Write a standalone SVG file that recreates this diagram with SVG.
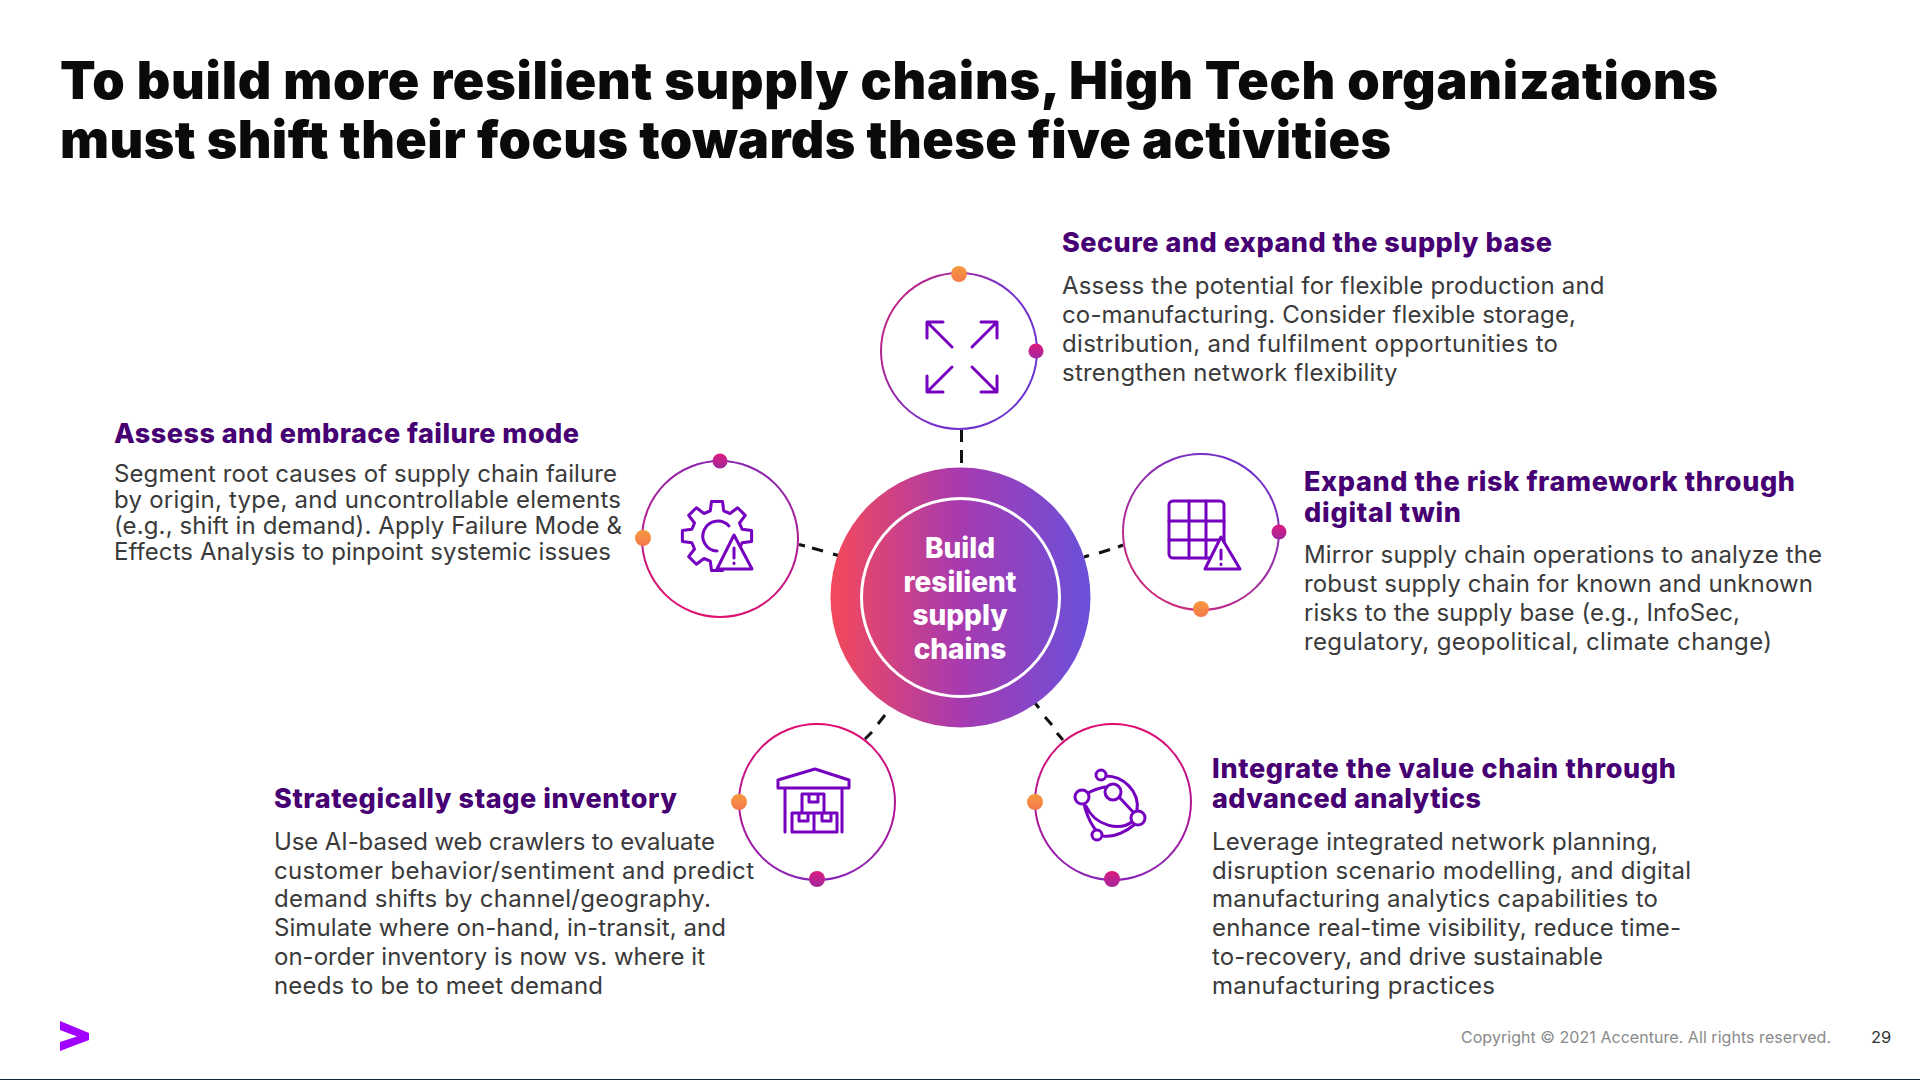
<svg xmlns="http://www.w3.org/2000/svg" width="1920" height="1080" viewBox="0 0 1920 1080">
<style>
text{font-family:Inter,"Noto Sans","Liberation Sans",sans-serif}
.t{font-size:52px;font-weight:900;fill:#0a0a0a}
.h{font-size:27px;font-weight:800;fill:#460073}
.b{font-size:24px;font-weight:400;fill:#3a3a3a}
.c{font-size:28px;font-weight:800;fill:#fff;text-anchor:middle}
.i{fill:none;stroke:#7500c0;stroke-width:3;stroke-linejoin:round;stroke-linecap:round}
.w{fill:#fff}
.r{fill:#fff;stroke-width:2}
.dash{fill:none;stroke:#111;stroke-width:3}
</style>
<defs>
<linearGradient id="core" x1="0" x2="1" y1="0" y2="0"><stop offset="0" stop-color="#f4495a"/><stop offset=".5" stop-color="#a73ab0"/><stop offset="1" stop-color="#6a50da"/></linearGradient>
<linearGradient id="rt" x1="0" x2="1" y1="0" y2=".6"><stop offset="0" stop-color="#d5206f"/><stop offset=".6" stop-color="#7a30c8"/><stop offset="1" stop-color="#6a35d0"/></linearGradient>
<linearGradient id="rl" x1=".6" x2=".4" y1="0" y2="1"><stop offset="0" stop-color="#8a25b0"/><stop offset="1" stop-color="#e0106c"/></linearGradient>
<linearGradient id="rr" x1=".8" x2=".2" y1="0" y2="1"><stop offset="0" stop-color="#6a30d0"/><stop offset="1" stop-color="#d02a78"/></linearGradient>
<linearGradient id="rb" x1="0" x2="0" y1="0" y2="1"><stop offset="0" stop-color="#e00c70"/><stop offset="1" stop-color="#8a22b8"/></linearGradient>
<linearGradient id="or" x1="0" x2="0" y1="0" y2="1"><stop offset="0" stop-color="#f59a3c"/><stop offset="1" stop-color="#f5784e"/></linearGradient>
<linearGradient id="mg" x1="0" x2="0" y1="0" y2="1"><stop offset="0" stop-color="#dd1a80"/><stop offset="1" stop-color="#a0289c"/></linearGradient>
</defs>
<rect width="1920" height="1080" fill="#fff"/>
<rect y="1079" width="1920" height="1" fill="#14263a"/>
<text class="t" x="60" y="99" textLength="1658">To build more resilient supply chains, High Tech organizations</text>
<text class="t" x="60" y="158" textLength="1331">must shift their focus towards these five activities</text>
<g id="connectors">
<path class="dash" d="M961.500 430V442M961.500 450V463"/>
<path class="dash" d="M799 544.500L805 546M812 548L823 551M833 554L840 556"/>
<path class="dash" d="M1084 557L1089 555.500M1099 553L1110 549.500M1118 547L1123 545"/>
<path class="dash" d="M865 739L872 732M878 724L885 715"/>
<path class="dash" d="M1035 703L1039 708M1045 717L1052 725M1057 733L1063 740"/>
</g>
<g id="node-core">
<circle cx="960.500" cy="597.500" r="130" fill="url(#core)"/>
<circle cx="960.500" cy="597.500" r="99" fill="none" stroke="#fff" stroke-width="3"/>
<text class="c" x="960" y="558">Build</text>
<text class="c" x="960" y="592">resilient</text>
<text class="c" x="960" y="625">supply</text>
<text class="c" x="960" y="659">chains</text>
</g>
<g id="node-secure">
<circle class="r" cx="959" cy="351" r="78" stroke="url(#rt)"/>
<circle cx="959" cy="274" r="8" fill="url(#or)"/><circle cx="1036" cy="351" r="7.500" fill="url(#mg)"/>
<path class="i" d="M952 347L927 322M927 338V322H943M972 347L997 322M981 322H997V338M952 367L927 392M927 376V392H943M972 367L997 392M997 376V392H981"/>
<text class="h" x="1062" y="252" textLength="490">Secure and expand the supply base</text>
<text class="b" x="1062" y="294" textLength="542.500">Assess the potential for flexible production and</text>
<text class="b" x="1062" y="323" textLength="514">co-manufacturing. Consider flexible storage,</text>
<text class="b" x="1062" y="352" textLength="496">distribution, and fulfilment opportunities to</text>
<text class="b" x="1062" y="381" textLength="335.500">strengthen network flexibility</text>
</g>
<g id="node-failure">
<circle class="r" cx="720" cy="539" r="78" stroke="url(#rl)"/>
<circle cx="720" cy="461" r="7.500" fill="url(#mg)"/><circle cx="643" cy="538" r="8" fill="url(#or)"/>
<path class="i" transform="translate(717 536)" d="M25.100 -6.700L34.600 -5.500V5.500L25.100 6.700L22.500 13L28.300 20.600L20.600 28.300L13 22.500L6.700 25.100L5.500 34.600H-5.500L-6.700 25.100L-13 22.500L-20.600 28.300L-28.300 20.600L-22.500 13L-25.100 6.700L-34.600 5.500V-5.500L-25.100 -6.700L-22.500 -13L-28.300 -20.600L-20.600 -28.300L-13 -22.500L-6.700 -25.100L-5.500 -34.600H5.500L6.700 -25.100L13 -22.500L20.600 -28.300L28.300 -20.600L22.500 -13Z"/>
<path class="i" d="M729 526A15 15 0 1 0 717 551"/>
<path class="i w" d="M734 535L752 569H717Z"/><path class="i" d="M734 548V558M734 563V563.500"/>
<text class="h" x="114" y="443" textLength="465">Assess and embrace failure mode</text>
<text class="b" x="114" y="482" textLength="503">Segment root causes of supply chain failure</text>
<text class="b" x="114" y="508" textLength="507">by origin, type, and uncontrollable elements</text>
<text class="b" x="114" y="534" textLength="508">(e.g., shift in demand). Apply Failure Mode &amp;</text>
<text class="b" x="114" y="560" textLength="497">Effects Analysis to pinpoint systemic issues</text>
</g>
<g id="node-risk">
<circle class="r" cx="1201" cy="532" r="78" stroke="url(#rr)"/>
<circle cx="1279" cy="532" r="7.500" fill="url(#mg)"/><circle cx="1201" cy="609" r="8" fill="url(#or)"/>
<rect class="i" x="1169" y="501" width="55" height="57" rx="4"/>
<path class="i" d="M1169 521H1224M1169 540H1224M1189 501V558M1206 501V558"/>
<path class="i w" d="M1221 537L1240 569H1205Z"/><path class="i" d="M1221 550V559M1221 564V564.500"/>
<text class="h" x="1304" y="491" textLength="491">Expand the risk framework through</text>
<text class="h" x="1304" y="522" textLength="157">digital twin</text>
<text class="b" x="1304" y="563" textLength="518">Mirror supply chain operations to analyze the</text>
<text class="b" x="1304" y="592" textLength="509">robust supply chain for known and unknown</text>
<text class="b" x="1304" y="621" textLength="436">risks to the supply base (e.g., InfoSec,</text>
<text class="b" x="1304" y="650" textLength="468">regulatory, geopolitical, climate change)</text>
</g>
<g id="node-inventory">
<circle class="r" cx="817" cy="802" r="78" stroke="url(#rb)"/>
<circle cx="739" cy="802" r="8" fill="url(#or)"/><circle cx="817" cy="879" r="8" fill="url(#mg)"/>
<path class="i" d="M778 788V780L815 769L849 780V788ZM785 788V832M842 788V832M792 813H837V832H792ZM814 813V832M802 794H824V813H802ZM809 794V802H818V794M799 813V821H808V813M822 813V821H831V813"/>
<text class="h" x="274" y="808" textLength="403">Strategically stage inventory</text>
<text class="b" x="274" y="850" textLength="441">Use AI-based web crawlers to evaluate</text>
<text class="b" x="274" y="879" textLength="480">customer behavior/sentiment and predict</text>
<text class="b" x="274" y="907" textLength="437">demand shifts by channel/geography.</text>
<text class="b" x="274" y="936" textLength="452">Simulate where on-hand, in-transit, and</text>
<text class="b" x="274" y="965" textLength="431">on-order inventory is now vs. where it</text>
<text class="b" x="274" y="994" textLength="329">needs to be to meet demand</text>
</g>
<g id="node-analytics">
<circle class="r" cx="1113" cy="802" r="78" stroke="url(#rb)"/>
<circle cx="1035" cy="802" r="8" fill="url(#or)"/><circle cx="1112" cy="879" r="8" fill="url(#mg)"/>
<path class="i" d="M1106 776C1122 776 1140 790 1137 811M1084 804C1088 822 1098 835 1103 836C1115 838 1128 830 1134 825M1086 806C1095 826 1120 832 1133 821M1088 793C1095 789 1100 788 1105 787M1120 798L1133 812"/>
<circle class="i w" cx="1101" cy="775" r="5"/><circle class="i w" cx="1113" cy="792" r="8"/><circle class="i w" cx="1082" cy="797" r="7"/><circle class="i w" cx="1138" cy="818" r="7"/><circle class="i w" cx="1097" cy="835" r="5"/>
<text class="h" x="1212" y="778" textLength="464">Integrate the value chain through</text>
<text class="h" x="1212" y="808" textLength="269">advanced analytics</text>
<text class="b" x="1212" y="850" textLength="446">Leverage integrated network planning,</text>
<text class="b" x="1212" y="879" textLength="479">disruption scenario modelling, and digital</text>
<text class="b" x="1212" y="907" textLength="446">manufacturing analytics capabilities to</text>
<text class="b" x="1212" y="936" textLength="469">enhance real-time visibility, reduce time-</text>
<text class="b" x="1212" y="965" textLength="391">to-recovery, and drive sustainable</text>
<text class="b" x="1212" y="994" textLength="283">manufacturing practices</text>
</g>
<path d="M60 1021L89 1033V1040L60 1051V1042L77 1036.500L60 1030Z" fill="#a100ff"/>
<text x="1461" y="1043" font-size="16" fill="#8a8a8a" textLength="370">Copyright © 2021 Accenture. All rights reserved.</text>
<text x="1871" y="1043" font-size="16.500" fill="#333">29</text>
</svg>
